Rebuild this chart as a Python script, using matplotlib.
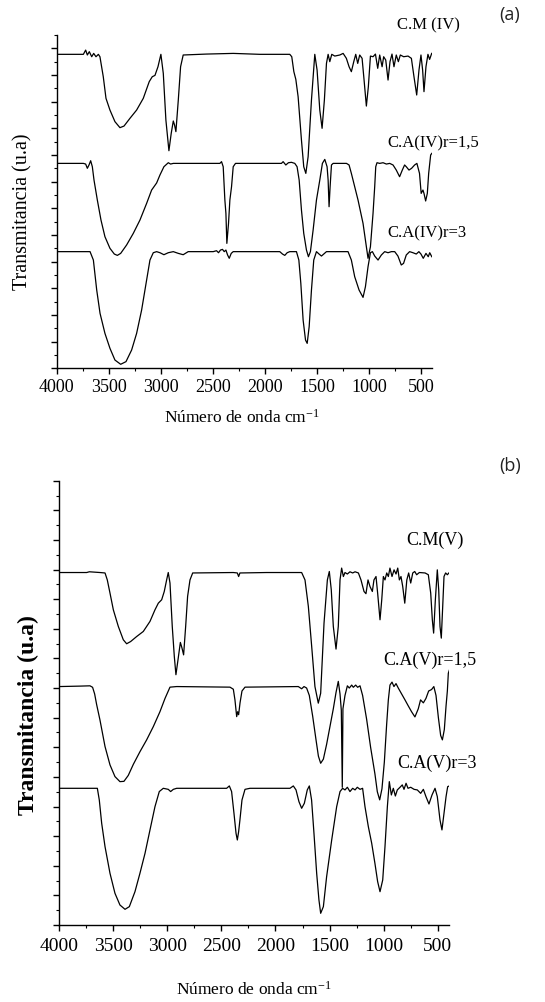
import matplotlib
matplotlib.use("Agg")
import matplotlib.pyplot as plt
from matplotlib.ticker import MultipleLocator

plt.rcParams['font.family'] = ['Liberation Serif', 'DejaVu Serif']
plt.rcParams['mathtext.fontset'] = 'custom'
plt.rcParams['mathtext.rm'] = 'Liberation Serif'
plt.rcParams['mathtext.it'] = 'Liberation Serif:italic'
plt.rcParams['mathtext.bf'] = 'Liberation Serif:bold'

# ---- panel (a): spectra IV (offset transmittance, arbitrary units) ----
wn_cm4 = [4000, 3744, 3722, 3706, 3687, 3664, 3645, 3623, 3600, 3585, 3553, 3527, 3489, 3441,
          3393, 3354, 3297, 3233, 3169, 3112, 3083, 3057, 3028, 3000, 2977, 2952, 2923, 2901,
          2881, 2869, 2856, 2833, 2811, 2786, 2562, 2306, 2050, 1763, 1744, 1724, 1705, 1683,
          1651, 1629, 1609, 1587, 1555, 1523, 1501, 1475, 1453, 1431, 1411, 1395, 1379, 1360,
          1331, 1283, 1251, 1220, 1194, 1172, 1149, 1130, 1111, 1092, 1069, 1050, 1028, 1009,
          989, 964, 941, 919, 900, 877, 862, 842, 820, 801, 782, 763, 741, 721, 702, 670, 628,
          596, 571, 545, 523, 504, 488, 475, 456, 437, 421, 401]
t_cm4 = [23.55, 23.55, 23.87, 23.5, 23.75, 23.37, 23.62, 23.37, 23.55, 23.37, 21.87, 20.25, 19.37, 18.5,
         18.05, 18.17, 18.75, 19.37, 20.25, 21.5, 21.87, 21.97, 22.62, 23.55, 22.12, 18.62, 16.32, 17.62,
         18.55, 18.25, 17.75, 20.12, 22.62, 23.5, 23.57, 23.62, 23.55, 23.55, 23.37, 22.25, 21.67, 20.37,
         17.12, 15.12, 14.62, 15.87, 20.12, 23.55, 22.37, 19.37, 18.0, 20.12, 22.87, 23.55, 23.0, 23.55,
         23.42, 23.5, 23.62, 23.25, 22.62, 22.25, 23.0, 23.55, 22.87, 23.5, 23.25, 21.62, 19.67, 21.12,
         23.42, 23.37, 23.57, 22.5, 23.5, 22.62, 23.37, 23.12, 21.62, 23.0, 23.57, 22.62, 23.5, 23.0, 23.5, 23.37, 23.42,
         23.25, 21.87, 20.5, 22.37, 23.5, 22.37, 20.75, 22.62, 23.55, 23.17, 23.62]

wn_ca4_15 = [4000, 3744, 3722, 3706, 3690, 3674, 3658, 3642, 3610, 3575, 3537, 3489, 3447, 3418,
             3386, 3329, 3265, 3201, 3137, 3089, 3041, 3009, 2971, 2929, 2907, 2881, 2434, 2418,
             2402, 2386, 2376, 2367, 2351, 2338, 2322, 2306, 2284, 1843, 1827, 1801, 1776, 1747,
             1715, 1693, 1673, 1651, 1629, 1603, 1584, 1565, 1539, 1507, 1475, 1450, 1427, 1405,
             1395, 1386, 1376, 1363, 1347, 1219, 1194, 1172, 1156, 1108, 1060, 1028, 1012, 989,
             964, 948, 938, 926, 900, 868, 836, 804, 772, 741, 709, 683, 661, 645, 619, 594, 565,
             543, 518, 502, 485, 475, 459, 443, 430, 411, 400]
t_ca4_15 = [15.37, 15.37, 15.32, 15.0, 15.25, 15.57, 15.12, 14.12, 12.62, 11.12, 9.87, 9.0, 8.57, 8.47,
            8.62, 9.25, 10.12, 11.12, 12.37, 13.37, 13.9, 14.5, 15.12, 15.42, 15.32, 15.37, 15.37, 15.5,
            15.12, 12.62, 11.62, 9.37, 10.87, 12.62, 13.62, 15.12, 15.37, 15.37, 15.5, 15.25, 15.42, 15.45,
            15.37, 15.12, 14.12, 11.87, 10.12, 8.87, 8.37, 8.75, 10.37, 12.62, 14.12, 15.37, 15.67, 15.12,
            14.12, 12.12, 13.62, 15.25, 15.37, 15.37, 15.25, 14.62, 14.12, 12.62, 10.87, 9.12, 8.25, 9.12,
            11.62, 13.62, 15.12, 15.42, 15.37, 15.42, 15.32, 15.37, 15.25, 14.87, 14.37, 14.87, 15.25, 15.12, 14.87, 15.0, 15.25,
            15.37, 14.62, 13.12, 13.37, 13.12, 12.55, 13.12, 14.62, 16.0, 16.12]

wn_ca4_3 = [4000, 3680, 3648, 3616, 3584, 3537, 3489, 3441, 3386, 3335, 3281, 3233, 3185, 3137,
            3105, 3073, 3041, 3009, 2971, 2929, 2881, 2833, 2786, 2738, 2498, 2466, 2447, 2428,
            2409, 2392, 2376, 2360, 2344, 2325, 2306, 1859, 1833, 1811, 1788, 1763, 1699, 1676,
            1657, 1635, 1612, 1596, 1577, 1555, 1533, 1507, 1482, 1459, 1437, 1411, 1204, 1172,
            1140, 1098, 1060, 1037, 1012, 989, 970, 948, 916, 884, 852, 820, 788, 756, 725, 693,
            671, 645, 613, 581, 549, 524, 504, 482, 456, 434, 420, 400]
t_ca4_3 = [8.75, 8.75, 8.12, 5.87, 4.12, 2.62, 1.5, 0.62, 0.3, 0.5, 1.37, 2.62, 4.37, 6.62,
           8.12, 8.67, 8.75, 8.67, 8.52, 8.67, 8.75, 8.62, 8.52, 8.75, 8.75, 8.82, 8.67, 8.87,
           8.92, 8.75, 8.87, 8.5, 8.25, 8.62, 8.75, 8.75, 8.57, 8.47, 8.67, 8.75, 8.75, 8.12,
           6.37, 3.62, 2.12, 1.87, 3.12, 5.87, 8.12, 8.75, 8.57, 8.42, 8.57, 8.75, 8.75, 8.12,
           6.87, 5.87, 5.32, 6.12, 7.62, 8.67, 8.75, 8.42, 8.12, 8.5, 8.75, 8.67, 8.75, 8.75, 8.42, 7.75,
           7.87, 8.5, 8.75, 8.67, 8.57, 8.75, 8.57, 8.25, 8.62, 8.37, 8.67, 8.37]

# ---- panel (b): spectra V ----
wn_cm5 = [4000, 3747, 3722, 3624, 3577, 3556, 3531, 3500, 3454, 3408, 3377, 3340, 3284, 3223,
          3161, 3115, 3084, 3053, 3029, 3007, 2992, 2976, 2955, 2936, 2921, 2902, 2880, 2865,
          2850, 2831, 2813, 2791, 2766, 2390, 2353, 2341, 2329, 2082, 1758, 1727, 1696, 1665,
          1635, 1604, 1582, 1551, 1520, 1502, 1484, 1465, 1440, 1419, 1403, 1388, 1372, 1357,
          1335, 1311, 1286, 1264, 1233, 1209, 1181, 1163, 1144, 1126, 1104, 1089, 1070, 1055,
          1033, 1017, 1002, 987, 971, 956, 941, 922, 903, 885, 869, 854, 839, 823, 804, 785,
          768, 749, 730, 712, 694, 669, 616, 586, 564, 549, 537, 521, 503, 490, 478, 466, 453,
          441, 426, 410, 392]
t_cm5 = [23.8, 23.8, 23.85, 23.8, 23.77, 23.3, 22.41, 21.28, 20.16, 19.26, 18.99, 19.14, 19.48, 19.82,
         20.5, 21.28, 21.73, 21.96, 22.52, 23.3, 23.8, 23.09, 20.16, 18.13, 16.9, 17.9, 19.08, 18.7,
         18.24, 20.16, 22.19, 23.3, 23.77, 23.8, 23.77, 23.53, 23.77, 23.8, 23.8, 23.3, 21.51, 18.8,
         16.1, 14.98, 15.65, 20.38, 23.3, 23.87, 22.64, 20.16, 18.63, 20.16, 23.3, 24.1, 23.53, 23.8,
         23.7, 23.85, 23.77, 23.85, 23.77, 23.3, 22.52, 22.37, 23.3, 22.86, 22.52, 23.3, 23.53, 22.41,
         20.61, 21.96, 23.53, 23.3, 23.77, 23.53, 24.1, 23.53, 23.98, 23.7, 24.1, 23.3, 23.53, 22.86, 21.73, 23.3,
         23.77, 23.09, 23.77, 23.87, 23.65, 23.8, 23.77, 23.65, 22.41, 20.61, 19.71, 21.96, 23.98, 22.64, 20.16, 19.37, 21.51,
         23.53, 23.77, 23.65, 23.8]

wn_ca5_15 = [4000, 3809, 3716, 3692, 3673, 3655, 3624, 3577, 3531, 3485, 3439, 3402, 3362, 3315,
             3254, 3192, 3130, 3069, 3022, 2976, 2914, 2421, 2390, 2375, 2359, 2350, 2341, 2328,
             2310, 2282, 1789, 1758, 1736, 1712, 1687, 1656, 1625, 1603, 1582, 1557, 1527, 1496,
             1465, 1440, 1419, 1403, 1391, 1382, 1376, 1357, 1335, 1317, 1295, 1280, 1258, 1240,
             1218, 1194, 1157, 1120, 1080, 1058, 1036, 1015, 993, 972, 956, 941, 922, 904, 885,
             864, 833, 802, 772, 741, 710, 679, 658, 632, 608, 583, 556, 535, 515, 493, 472, 456,
             438, 422, 410, 401, 392]
t_ca5_15 = [16.1, 16.13, 16.15, 16.05, 15.6, 14.9, 13.85, 12.05, 10.81, 10.02, 9.68, 9.7, 10.1, 10.85,
            11.7, 12.5, 13.4, 14.4, 15.3, 16.06, 16.1, 16.06, 15.92, 15.2, 14.07, 14.4, 14.2, 15.0,
            15.8, 16.06, 16.1, 15.95, 16.1, 16.0, 15.5, 14.1, 12.5, 11.4, 10.92, 11.2, 12.2, 13.4,
            14.6, 15.7, 16.45, 15.6, 14.5, 9.3, 14.6, 15.5, 16.15, 16.0, 16.2, 16.05, 16.2, 16.05,
            16.15, 15.5, 13.9, 12.0, 10.2, 9.0, 8.45, 9.2, 11.0, 13.5, 15.2, 16.2, 16.4, 16.1, 16.3,
            16.0, 15.6, 15.2, 14.8, 14.4, 14.05, 14.6, 15.2, 15.0, 15.3, 15.8, 15.9, 16.1, 15.5, 14.0, 12.8, 12.5,
            13.2, 14.8, 15.8, 17.0, 17.2]

wn_ca5_3 = [4000, 3670, 3648, 3630, 3608, 3577, 3531, 3485, 3439, 3392, 3352, 3300, 3254, 3207,
            3161, 3115, 3075, 3038, 2992, 2970, 2945, 2914, 2452, 2427, 2406, 2384, 2365, 2353,
            2341, 2329, 2310, 2282, 2236, 1866, 1835, 1810, 1783, 1758, 1733, 1706, 1687, 1666,
            1644, 1619, 1598, 1582, 1557, 1527, 1480, 1434, 1403, 1379, 1357, 1335, 1311, 1286,
            1264, 1243, 1218, 1194, 1172, 1141, 1110, 1080, 1055, 1033, 1008, 987, 965, 947, 928,
            910, 891, 873, 848, 827, 811, 792, 774, 749, 718, 688, 657, 632, 608, 580, 552, 524,
            503, 478, 460, 441, 422, 407, 392]
t_ca5_3 = [9.23, 9.23, 9.23, 8.44, 6.87, 5.29, 3.49, 2.14, 1.35, 1.06, 1.24, 2.25, 3.49, 4.84,
           6.42, 7.99, 9.01, 9.23, 9.16, 9.01, 9.16, 9.23, 9.23, 9.39, 9.01, 7.54, 6.19, 5.74,
           6.3, 7.09, 8.44, 9.16, 9.23, 9.23, 9.39, 9.12, 8.33, 7.88, 8.22, 9.12, 9.39, 8.44,
           6.19, 3.49, 1.69, 0.79, 1.24, 3.26, 5.74, 7.99, 9.01, 9.23, 9.12, 9.3, 9.01, 9.23,
           9.12, 9.3, 9.16, 9.23, 7.99, 6.64, 5.52, 4.16, 2.93, 2.25, 3.04, 5.29, 7.99, 9.68, 8.78,
           9.23, 8.71, 9.12, 9.3, 9.46, 9.16, 9.57, 9.23, 9.3, 9.16, 9.12, 8.89, 9.16, 8.67, 8.17, 8.78, 9.23,
           8.67, 7.09, 6.42, 7.54, 8.67, 9.34, 9.39]

W, H = 545, 1002
fig = plt.figure(figsize=(W / 100, H / 100), dpi=100)


def px_rect(left, top, right, bottom):
    return [left / W, 1 - bottom / H, (right - left) / W, (bottom - top) / H]


def style_axis(ax, ymax, xmax_end, labelsize, pad):
    for s in ('top', 'right'):
        ax.spines[s].set_visible(False)
    for s in ('left', 'bottom'):
        ax.spines[s].set_linewidth(1.0)
    ax.set_xlim(4000, xmax_end)
    ax.set_ylim(0, ymax)
    ax.xaxis.set_major_locator(MultipleLocator(500))
    ax.xaxis.set_minor_locator(MultipleLocator(250))
    ax.yaxis.set_major_locator(MultipleLocator(2))
    ax.yaxis.set_minor_locator(MultipleLocator(1))
    ax.tick_params(which='major', direction='out', length=4.5, width=1.0, labelsize=labelsize, pad=pad)
    ax.tick_params(which='minor', direction='out', length=2.5, width=0.8)
    ax.tick_params(axis='y', which='both', labelleft=False)


lw = 0.9

# panel (a)
ax1 = fig.add_axes(px_rect(56.7, 35, 431.8, 368.3))
ax1.plot(wn_cm4, t_cm4, color='black', lw=lw)
ax1.plot(wn_ca4_15, t_ca4_15, color='black', lw=lw)
ax1.plot(wn_ca4_3, t_ca4_3, color='black', lw=lw)
style_axis(ax1, 25, 400, 13, 3.5)
ax1.set_xlabel('Número de onda cm$^{\\mathrm{-1}}$', fontsize=12.5)
ax1.xaxis.set_label_coords(0.494, -0.149)
ax1.xaxis.label.set_verticalalignment('center')
ax1.set_ylabel('Transmitancia (u.a)', fontsize=14.5)
ax1.yaxis.set_label_coords(-0.09, 0.469)
ax1.yaxis.label.set_verticalalignment('center')

# panel (b)
ax2 = fig.add_axes(px_rect(59.3, 480.7, 449.3, 925))
ax2.plot(wn_cm5, t_cm5, color='black', lw=lw)
ax2.plot(wn_ca5_15, t_ca5_15, color='black', lw=lw)
ax2.plot(wn_ca5_3, t_ca5_3, color='black', lw=lw)
style_axis(ax2, 30, 392, 14, 5)
ax2.set_xlabel('Número de onda cm$^{\\mathrm{-1}}$', fontsize=12.5)
ax2.xaxis.set_label_coords(0.499, -0.146)
ax2.xaxis.label.set_verticalalignment('center')
ax2.set_ylabel('Transmitancia (u.a)', fontsize=17, fontweight='bold')
ax2.yaxis.set_label_coords(-0.078, 0.473)
ax2.yaxis.label.set_verticalalignment('center')


def ftext(x, y, s, size, **kw):
    fig.text(x / W, 1 - y / H, s, fontsize=size, ha='center', va='center', **kw)


ftext(428, 25, 'C.M (IV)', 12)
ftext(433, 143, 'C.A(IV)r=1,5', 12)
ftext(427, 233, 'C.A(IV)r=3', 12)
ftext(435, 540, 'C.M(V)', 13)
ftext(430, 660, 'C.A(V)r=1,5', 13)
ftext(437, 763, 'C.A(V)r=3', 13)
ftext(510, 15, '(a)', 13, family=['Open Sans', 'DejaVu Sans'], color='#222222')
ftext(510, 466, '(b)', 13, family=['Open Sans', 'DejaVu Sans'], color='#222222')

fig.savefig('out.png', dpi=100)
plt.close(fig)
